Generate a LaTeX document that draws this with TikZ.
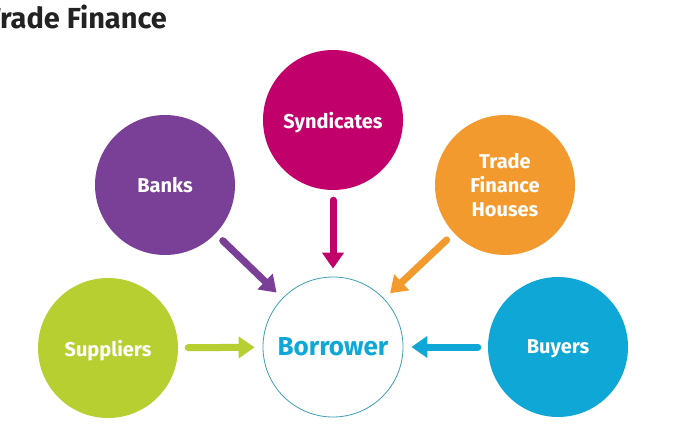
\documentclass[tikz,border=0pt]{standalone}
\usepackage{fontspec}
\setmainfont{Fira Sans}
\usetikzlibrary{arrows.meta}
\definecolor{cpurple}{HTML}{7A3F96}
\definecolor{cmagenta}{HTML}{C2006C}
\definecolor{corange}{HTML}{F39A2E}
\definecolor{cgreen}{HTML}{B8CF32}
\definecolor{cblue}{HTML}{0FA8D6}
\definecolor{cring}{HTML}{3C9DB4}
\definecolor{ctitle}{HTML}{222222}
\tikzset{
  bubble/.style={circle, minimum size=140pt, inner sep=0pt, text=white, align=center,
    font=\fontsize{20}{24}\selectfont\bfseries, text depth=0pt},
  arr/.style={line width=7pt, line cap=round, -{Triangle[width=21pt,length=16pt]},
    shorten <=10pt, shorten >=8pt}
}
\begin{document}
\begin{tikzpicture}[x=1pt,y=-1pt]
\useasboundingbox[fill=white] (0,0) rectangle (690,430);
\node[anchor=base west, text=ctitle, font=\fontsize{29}{32}\selectfont\bfseries, inner sep=0pt] (title) at (-15,29) {Trade Finance};
\node[bubble, fill=cmagenta] (synd) at (333,120) {Syndicates};
\node[bubble, fill=cpurple] (banks) at (165,185) {Banks};
\node[bubble, fill=corange] (tfh) at (505,185) {Trade\\Finance\\Houses};
\node[bubble, fill=cgreen] (supp) at (108,348) {Suppliers};
\node[bubble, fill=cblue] (buy) at (558,347) {Buyers};
\node[circle, minimum size=140pt, inner sep=0pt, draw=cring, line width=0.8pt, text=cblue,
  font=\fontsize{26}{30}\selectfont\bfseries] (bor) at (333,347) {Borrower};
\draw[arr, cmagenta] (synd) -- (bor);
\draw[arr, cpurple] (banks) -- (bor);
\draw[arr, corange] (tfh) -- (bor);
\draw[arr, cgreen] (supp) -- (bor);
\draw[arr, cblue] (buy) -- (bor);
\end{tikzpicture}
\end{document}
